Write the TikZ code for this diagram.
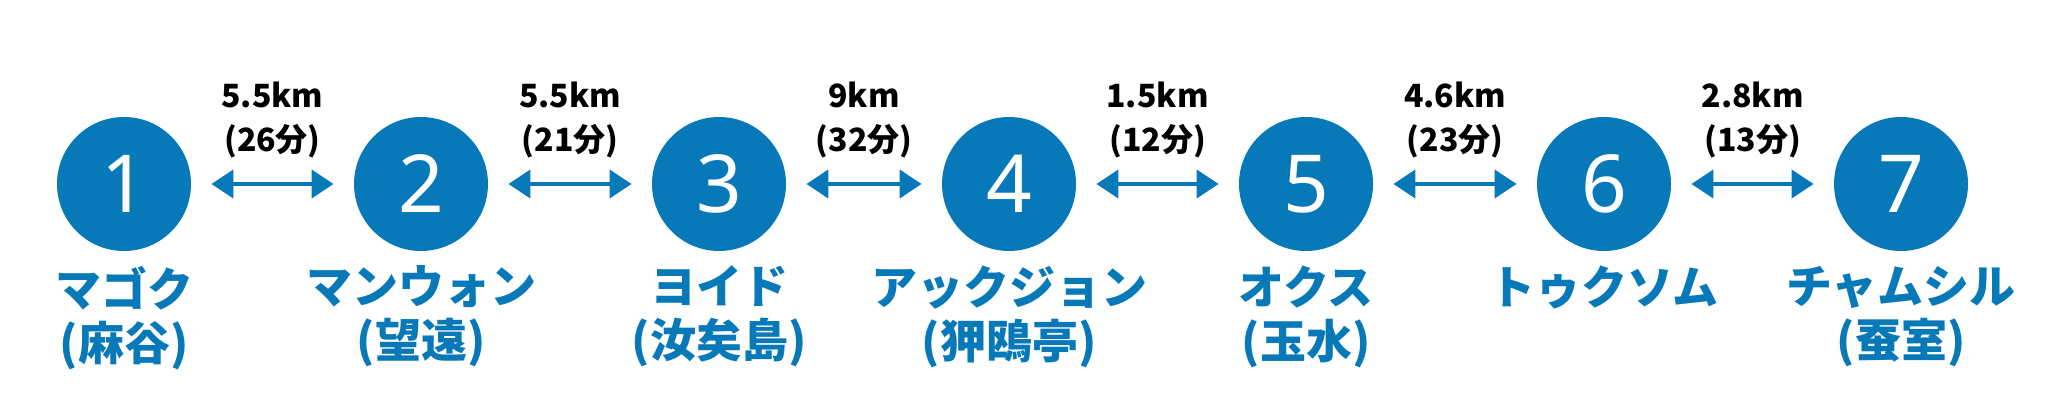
\documentclass[tikz,border=0pt]{standalone}
\usepackage{fontspec}
\setmainfont{Noto Sans CJK JP}
\newfontfamily\numfont{Noto Sans}
\usetikzlibrary{positioning, arrows.meta}
\definecolor{stationblue}{RGB}{7,121,185}

\begin{document}
\begin{tikzpicture}[x=0.5pt, y=-0.5pt,
    station/.style={circle, fill=stationblue, minimum size=67pt, inner sep=0pt, text=white, font=\numfont\fontsize{40}{40}\selectfont},
    stname/.style={text=stationblue, align=center, inner sep=0pt, font=\bfseries\fontsize{23}{27}\selectfont},
    dist/.style={{Triangle[width=14pt,length=11pt]}-{Triangle[width=14pt,length=11pt]}, line width=2pt, stationblue, shorten <=10pt, shorten >=10pt},
    distlabel/.style={text=black, align=center, inner sep=0pt, font=\bfseries\fontsize{16}{22}\selectfont}]
    \useasboundingbox (0,0) rectangle (2048,400);
    % Draw the stations
    \node[station] (s1) at (124,184) {1};
    \node[station] (s2) at (421,184) {2};
    \node[station] (s3) at (719,184) {3};
    \node[station] (s4) at (1009,184) {4};
    \node[station] (s5) at (1306,184) {5};
    \node[station] (s6) at (1604,184) {6};
    \node[station] (s7) at (1901,184) {7};
    % Draw station names
    \node[stname, below=7pt of s1] (n1) {マゴク\\(麻谷)};
    \node[stname, below=7pt of s2] (n2) {マンウォン\\(望遠)};
    \node[stname, below=7pt of s3] (n3) {ヨイド\\(汝矣島)};
    \node[stname, below=7pt of s4] (n4) {アックジョン\\(狎鴎亭)};
    \node[stname, below=7pt of s5] (n5) {オクス\\(玉水)};
    \node[stname, below=7pt of s6] (n6) {トゥクソム};
    \node[stname, below=7pt of s7] (n7) {チャムシル\\(蚕室)};
    % Draw distances between stations
    \draw[dist] (s1) -- (s2) node[distlabel, midway, above=12pt] {5.5km\\(26分)};
    \draw[dist] (s2) -- (s3) node[distlabel, midway, above=12pt] {5.5km\\(21分)};
    \draw[dist] (s3) -- (s4) node[distlabel, midway, above=12pt] {9km\\(32分)};
    \draw[dist] (s4) -- (s5) node[distlabel, midway, above=12pt] {1.5km\\(12分)};
    \draw[dist] (s5) -- (s6) node[distlabel, midway, above=12pt] {4.6km\\(23分)};
    \draw[dist] (s6) -- (s7) node[distlabel, midway, above=12pt] {2.8km\\(13分)};
\end{tikzpicture}
\end{document}
